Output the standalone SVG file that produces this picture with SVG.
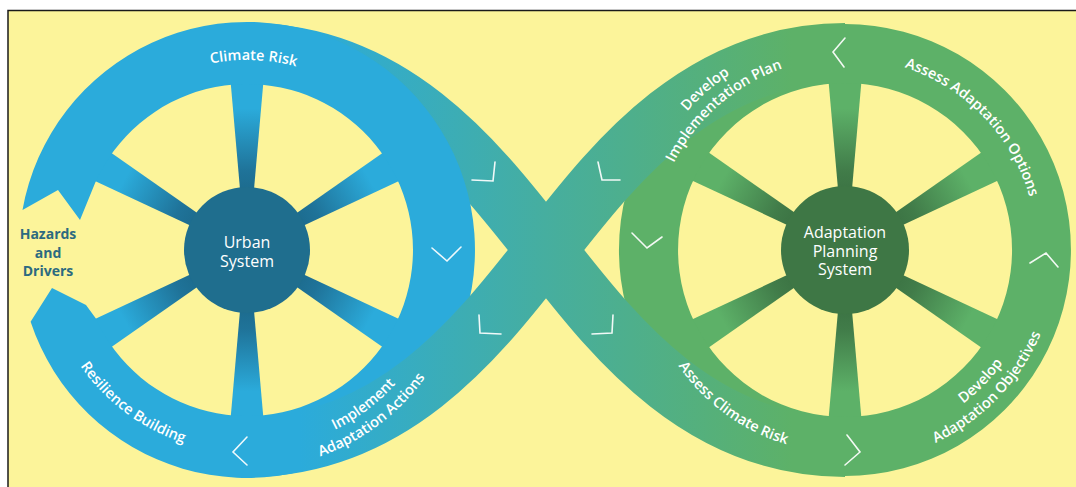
<svg xmlns="http://www.w3.org/2000/svg" xmlns:xlink="http://www.w3.org/1999/xlink" width="1076" height="487" viewBox="0 0 1076 487">
<defs>
<style>
.rt{font-family:"Open Sans","Liberation Sans",sans-serif;font-size:14.5px;font-weight:600;fill:#ffffff}
.ht{font-family:"Open Sans","Liberation Sans",sans-serif;font-size:16px;font-weight:400;fill:#ffffff;text-anchor:middle}
.hz{font-family:"Open Sans","Liberation Sans",sans-serif;font-size:14px;font-weight:700;fill:#2c6a80;text-anchor:middle}
.chev{fill:none;stroke:#ffffff;stroke-width:1.6;stroke-linecap:round;stroke-linejoin:miter;opacity:0.92}
.band{fill:none;stroke:url(#bandGrad);stroke-width:60}
</style>
<linearGradient id="spokeGradB" x1="0" y1="0" x2="1" y2="0">
<stop offset="0" stop-color="#1c6a8c"/>
<stop offset="0.2" stop-color="#1f7399"/>
<stop offset="0.72" stop-color="#2babdb"/>
</linearGradient>
<linearGradient id="spokeGradG" x1="0" y1="0" x2="1" y2="0">
<stop offset="0" stop-color="#3b7243"/>
<stop offset="0.2" stop-color="#417c49"/>
<stop offset="0.72" stop-color="#5db168"/>
</linearGradient>
<linearGradient id="bandGrad" gradientUnits="userSpaceOnUse" x1="300" y1="0" x2="792" y2="0">
<stop offset="0" stop-color="#2babdb"/>
<stop offset="0.5" stop-color="#46ae9f"/>
<stop offset="1" stop-color="#5db168"/>
</linearGradient>
<path id="spokeB" d="M55,-6.5 L175,-17 L175,17 L55,6.5 Z" fill="url(#spokeGradB)"/>
<path id="spokeG" d="M55,-6.5 L175,-17 L175,17 L55,6.5 Z" fill="url(#spokeGradG)"/>
<path id="pClimateRisk" d="M105.8,122.9 A190,190 0 0,1 396.7,133"/>
<path id="pResilience" d="M44.3,261.7 A203,203 0 0,0 293.7,447.6"/>
<path id="pImplement" d="M219.2,448.1 A200,200 0 0,0 445.1,277.8"/>
<path id="pAdaptActions" d="M216.5,466.9 A219,219 0 0,0 463.9,280.5"/>
<path id="pDevelopTop" d="M635.5,235.4 A210,210 0 0,1 859.6,40.5"/>
<path id="pImplPlan" d="M653.5,236.6 A192,192 0 0,1 858.4,58.5"/>
<path id="pOptions" d="M815,60.4 A192,192 0 0,1 1033.5,286.6"/>
<path id="pDevelopObj" d="M848.4,444 A194,194 0 0,0 1039,246.6"/>
<path id="pObjectives" d="M848.7,463 A213,213 0 0,0 1058,246.3"/>
<path id="pAssessRisk" d="M642.5,264.2 A203,203 0 0,0 894.1,447"/>
</defs>

<g id="frame">
<rect x="0" y="0" width="1076" height="487" fill="#ffffff"/>
<rect x="8" y="10.5" width="1080" height="490" fill="#fcf49a" stroke="#1a1a1a" stroke-width="1.5"/>
</g>

<g id="adaptation-planning-system">
<use href="#spokeG" transform="translate(845,250) rotate(270)"/>
<use href="#spokeG" transform="translate(845,250) rotate(330)"/>
<use href="#spokeG" transform="translate(845,250) rotate(30)"/>
<use href="#spokeG" transform="translate(845,250) rotate(90)"/>
<use href="#spokeG" transform="translate(845,250) rotate(150)"/>
<use href="#spokeG" transform="translate(845,250) rotate(210)"/>
<path d="M845,24 A226,226 0 1,1 844.9,24 Z M845,83 A167,167 0 1,0 845.1,83 Z" fill="#5db168" fill-rule="evenodd"/>
<circle cx="845" cy="250" r="64" fill="#3e7745"/>
<text class="ht" x="845" y="238">Adaptation</text>
<text class="ht" x="845" y="256.5">Planning</text>
<text class="ht" x="845" y="275">System</text>
</g>

<g id="connectors">
<path id="band-top-left-to-bottom-right" class="band" d="M247,53 C397,53 483.9,171.6 546,250 C608.1,328.4 695,447 845,447"/>
</g>

<g id="urban-system">
<use href="#spokeB" transform="translate(247,250) rotate(270)"/>
<use href="#spokeB" transform="translate(247,250) rotate(330)"/>
<use href="#spokeB" transform="translate(247,250) rotate(30)"/>
<use href="#spokeB" transform="translate(247,250) rotate(90)"/>
<use href="#spokeB" transform="translate(247,250) rotate(150)"/>
<use href="#spokeB" transform="translate(247,250) rotate(210)"/>
<path d="M22.5,210 L58,190 L80,220 L95.1,183 A166,166 0 1,1 95.7,318.3 L86,305 L52,288 L30.6,321.8 A228,228 0 1,0 22.5,210 Z" fill="#2babdb"/>
<circle cx="247" cy="250" r="63" fill="#1f6e8e"/>
<text class="ht" x="247" y="248">Urban</text>
<text class="ht" x="247" y="267">System</text>
</g>

<g id="hazards-and-drivers">
<text class="hz" x="48" y="239">Hazards</text>
<text class="hz" x="48" y="257.5">and</text>
<text class="hz" x="48" y="276">Drivers</text>
</g>

<g id="connectors-2">
<path id="band-bottom-left-to-top-right" class="band" d="M247,447 C397,447 483.9,328.4 546,250 C608.1,171.6 695,53 845,53"/>
<polyline class="chev" points="432,248 447,261 461,247"/>
<polyline class="chev" points="247,437 233,452 247,465"/>
<polyline class="chev" points="472,180 493,181 495,162"/>
<polyline class="chev" points="598,162 602,180 620,180"/>
<polyline class="chev" points="479,315 480,333 501,334"/>
<polyline class="chev" points="592,334 612,333 613,315"/>
<polyline class="chev" points="632,233 647,248 662,237"/>
<polyline class="chev" points="845,38 833,52 844,67"/>
<polyline class="chev" points="1030,263 1046,253 1058,267"/>
<polyline class="chev" points="847,435 860,452 845,465"/>
</g>

<g id="stage-labels">
<text class="rt"><textPath href="#pClimateRisk" startOffset="50%" text-anchor="middle">Climate Risk</textPath></text>
<text class="rt"><textPath href="#pResilience" startOffset="50%" text-anchor="middle">Resilience Building</textPath></text>
<text class="rt"><textPath href="#pImplement" startOffset="50%" text-anchor="middle">Implement</textPath></text>
<text class="rt"><textPath href="#pAdaptActions" startOffset="50%" text-anchor="middle">Adaptation Actions</textPath></text>
<text class="rt"><textPath href="#pDevelopTop" startOffset="50%" text-anchor="middle">Develop</textPath></text>
<text class="rt"><textPath href="#pImplPlan" startOffset="50%" text-anchor="middle">Implementation Plan</textPath></text>
<text class="rt"><textPath href="#pOptions" startOffset="50%" text-anchor="middle">Assess Adaptation Options</textPath></text>
<text class="rt"><textPath href="#pDevelopObj" startOffset="50%" text-anchor="middle">Develop</textPath></text>
<text class="rt"><textPath href="#pObjectives" startOffset="50%" text-anchor="middle">Adaptation Objectives</textPath></text>
<text class="rt"><textPath href="#pAssessRisk" startOffset="50%" text-anchor="middle">Assess Climate Risk</textPath></text>
</g>
</svg>
